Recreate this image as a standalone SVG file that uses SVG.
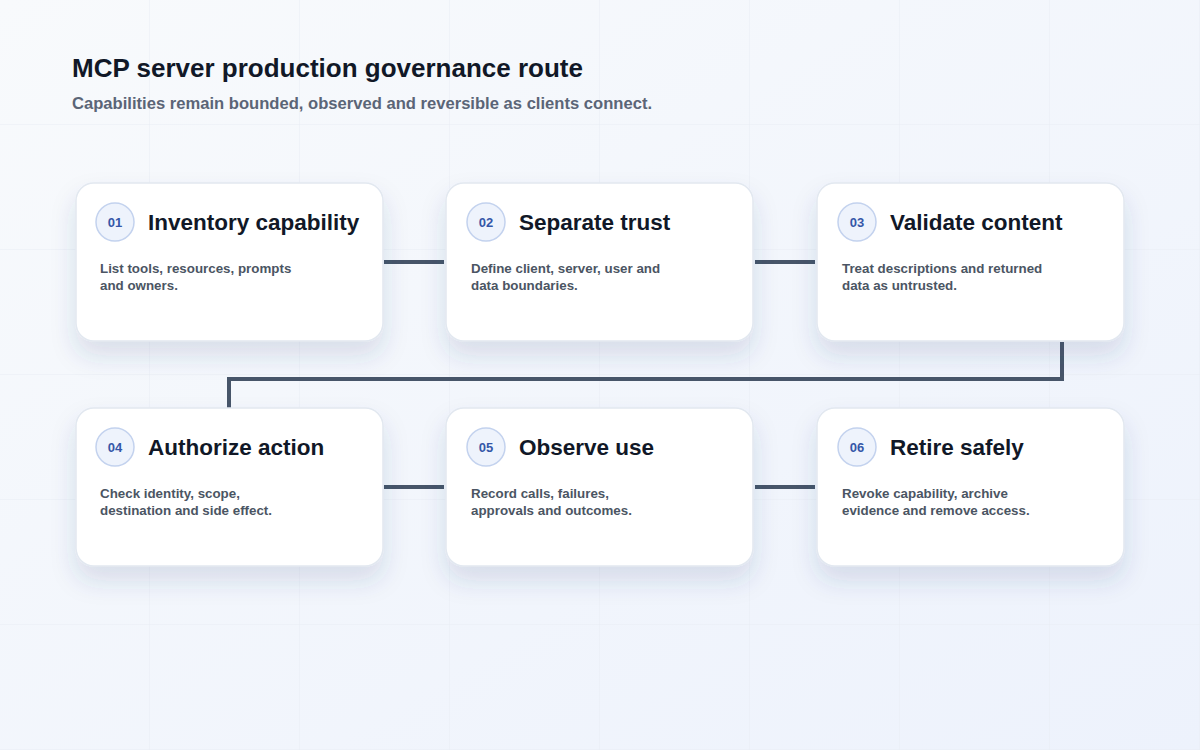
<svg xmlns="http://www.w3.org/2000/svg" width="1200" height="750" viewBox="0 0 1200 750">
<defs>
<linearGradient id="bg" x1="0" y1="0" x2="1" y2="1">
<stop offset="0" stop-color="#f8fafc"/>
<stop offset="1" stop-color="#edf2fc"/>
</linearGradient>
<pattern id="grid" width="150" height="125" patternUnits="userSpaceOnUse" x="0" y="0">
<path d="M150 0V125M0 125H150" fill="none" stroke="#e8edf4" stroke-width="1"/>
</pattern>
<filter id="sh" x="-20%" y="-20%" width="140%" height="160%">
<feDropShadow dx="0" dy="14" stdDeviation="12" flood-color="#334a7a" flood-opacity="0.14"/>
</filter>
</defs>
<style>
.card{fill:#ffffff;stroke:#e2e8f0;stroke-width:1.5;filter:url(#sh)}
.badge{fill:#eef3fc;stroke:#c3d2ee;stroke-width:1.5}
.num{font-family:"Liberation Sans",Arial,sans-serif;font-weight:700;font-size:13px;fill:#3557a8;text-anchor:middle}
.ttl{font-family:"Liberation Sans",Arial,sans-serif;font-weight:700;font-size:22.5px;fill:#111827}
.dsc{font-family:"Liberation Sans",Arial,sans-serif;font-weight:700;font-size:13.35px;fill:#4b5563}
.conn{fill:none;stroke:#475569;stroke-width:4}
</style>
<rect width="1200" height="750" fill="url(#bg)"/>
<rect width="1200" height="750" fill="url(#grid)"/>
<text x="72" y="77" font-family="Liberation Sans, Arial, sans-serif" font-weight="700" font-size="26" fill="#111827">MCP server production governance route</text>
<text x="72" y="109" font-family="Liberation Sans, Arial, sans-serif" font-weight="700" font-size="16.6" fill="#5b6577">Capabilities remain bounded, observed and reversible as clients connect.</text>
<g id="connectors">
<path class="conn" d="M384 262H444"/>
<path class="conn" d="M755 262H815"/>
<path class="conn" d="M1062 342V379H229V408"/>
<path class="conn" d="M384 487H444"/>
<path class="conn" d="M755 487H815"/>
</g>
<g id="n1">
<rect class="card" x="76" y="183" width="307" height="158" rx="18"/>
<circle class="badge" cx="115" cy="222" r="19"/>
<text class="num" x="115" y="227">01</text>
<text class="ttl" x="148" y="230">Inventory capability</text>
<text class="dsc" x="100" y="273">List tools, resources, prompts</text>
<text class="dsc" x="100" y="290">and owners.</text>
</g>
<g id="n2">
<rect class="card" x="446" y="183" width="307" height="158" rx="18"/>
<circle class="badge" cx="486" cy="222" r="19"/>
<text class="num" x="486" y="227">02</text>
<text class="ttl" x="519" y="230">Separate trust</text>
<text class="dsc" x="471" y="273">Define client, server, user and</text>
<text class="dsc" x="471" y="290">data boundaries.</text>
</g>
<g id="n3">
<rect class="card" x="817" y="183" width="307" height="158" rx="18"/>
<circle class="badge" cx="857" cy="222" r="19"/>
<text class="num" x="857" y="227">03</text>
<text class="ttl" x="890" y="230">Validate content</text>
<text class="dsc" x="842" y="273">Treat descriptions and returned</text>
<text class="dsc" x="842" y="290">data as untrusted.</text>
</g>
<g id="n4">
<rect class="card" x="76" y="408" width="307" height="158" rx="18"/>
<circle class="badge" cx="115" cy="447" r="19"/>
<text class="num" x="115" y="452">04</text>
<text class="ttl" x="148" y="455">Authorize action</text>
<text class="dsc" x="100" y="498">Check identity, scope,</text>
<text class="dsc" x="100" y="515">destination and side effect.</text>
</g>
<g id="n5">
<rect class="card" x="446" y="408" width="307" height="158" rx="18"/>
<circle class="badge" cx="486" cy="447" r="19"/>
<text class="num" x="486" y="452">05</text>
<text class="ttl" x="519" y="455">Observe use</text>
<text class="dsc" x="471" y="498">Record calls, failures,</text>
<text class="dsc" x="471" y="515">approvals and outcomes.</text>
</g>
<g id="n6">
<rect class="card" x="817" y="408" width="307" height="158" rx="18"/>
<circle class="badge" cx="857" cy="447" r="19"/>
<text class="num" x="857" y="452">06</text>
<text class="ttl" x="890" y="455">Retire safely</text>
<text class="dsc" x="842" y="498">Revoke capability, archive</text>
<text class="dsc" x="842" y="515">evidence and remove access.</text>
</g>
</svg>
